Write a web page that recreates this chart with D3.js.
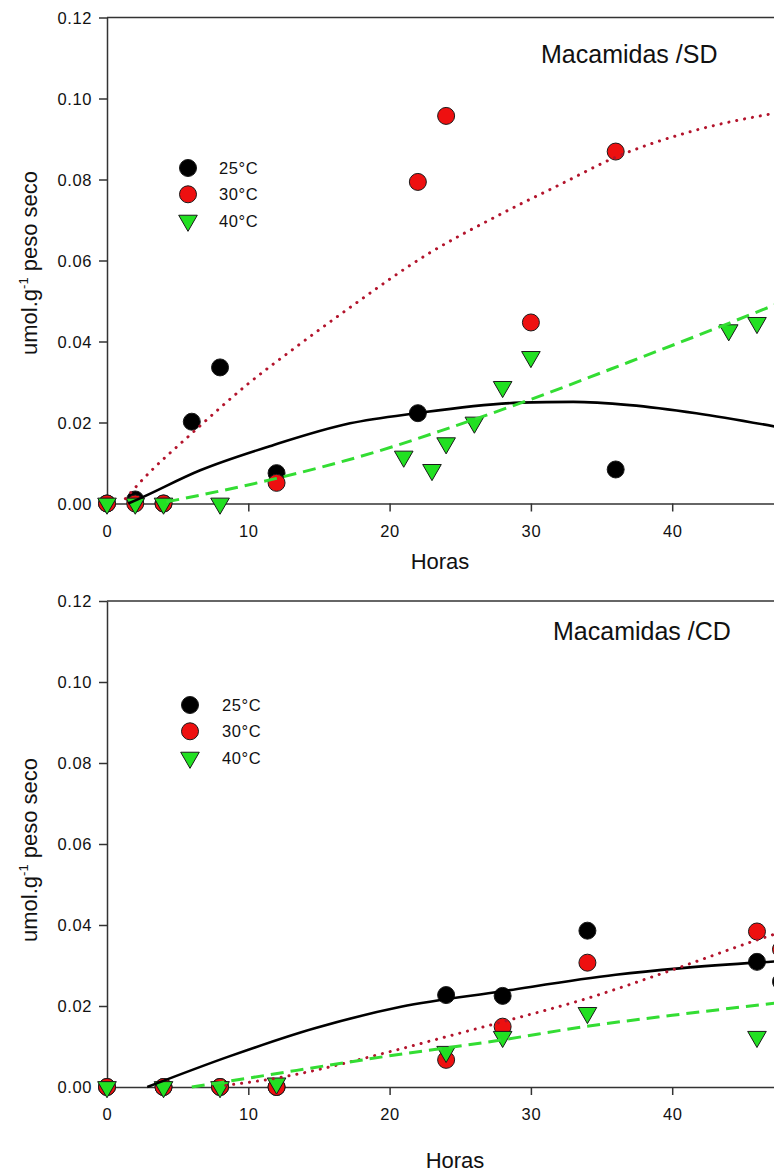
<!DOCTYPE html>
<html>
<head>
<meta charset="utf-8">
<script src="https://cdn.jsdelivr.net/npm/d3@7"></script>
<style>
  html, body { margin: 0; padding: 0; background: #fff; }
  svg { display: block; }
  text { font-family: "Liberation Sans", Arial, sans-serif; fill: #111; }
</style>
</head>
<body>
<svg id="chart" width="774" height="1174"></svg>
<script>
// ---------- data ----------
const seriesNames = ["25°C", "30°C", "40°C"];
const xTicks = [0, 10, 20, 30, 40];
const yTicks = [0, 0.02, 0.04, 0.06, 0.08, 0.10, 0.12];

// Panel 1: Macamidas /SD
const sdHours25 = [0, 2, 4, 6, 8, 12, 22, 36];
const sdVals25  = [0, 0.0010, 0, 0.0202, 0.0336, 0.0075, 0.0223, 0.0084];
const sdHours30 = [0, 2, 4, 12, 22, 24, 30, 36];
const sdVals30  = [0, 0, 0, 0.0051, 0.0794, 0.0957, 0.0447, 0.0869];
const sdHours40 = [0, 2, 4, 8, 21, 23, 24, 26, 28, 30, 44, 46];
const sdVals40  = [0, 0, 0, 0, 0.0116, 0.0083, 0.0149, 0.0200, 0.0288, 0.0362, 0.0428, 0.0446];

// fitted curves
const sdFitHours25 = [1.5, 2.1, 6.6, 11.75, 17.2, 21.9, 29.2, 33, 37, 41.7, 47.3];
const sdFitVals25  = [0, 0.0009, 0.0082, 0.0144, 0.0198, 0.0223, 0.0249, 0.0251, 0.0243, 0.0223, 0.0190];
const sdFitHours30 = [1.3, 2.6, 6, 9.9, 13.4, 16.8, 22.8, 27.5, 32.2, 35.8, 41.7, 47.3];
const sdFitVals30  = [0.0012, 0.0062, 0.0173, 0.0293, 0.0387, 0.0474, 0.0618, 0.0708, 0.0790, 0.0852, 0.0922, 0.0964];
const sdFitHours40 = [4.2, 12, 20.2, 23.5, 29.9, 37, 44, 47.3];
const sdFitVals40  = [0.0004, 0.0062, 0.0140, 0.0178, 0.0256, 0.0350, 0.0445, 0.0491];

// Panel 2: Macamidas /CD
const cdHours25 = [0, 4, 8, 12, 24, 28, 34, 46, 47.7];
const cdVals25  = [0, 0, 0, 0, 0.0227, 0.0225, 0.0386, 0.0309, 0.0260];
const cdHours30 = [0, 4, 8, 12, 24, 28, 34, 46, 47.7];
const cdVals30  = [0, 0, 0, 0, 0.0067, 0.0149, 0.0307, 0.0384, 0.0340];
const cdHours40 = [0, 4, 8, 12, 24, 28, 34, 46];
const cdVals40  = [0, 0, 0, 0.0009, 0.0087, 0.0124, 0.0183, 0.0124];

const cdFitHours25 = [2.85, 8.6, 14.7, 20.8, 27.9, 36, 40.5, 47.3];
const cdFitVals25  = [0, 0.0075, 0.0145, 0.0198, 0.0236, 0.0277, 0.0293, 0.0310];
const cdFitHours30 = [8.4, 12, 20, 24, 28, 34, 40, 46, 47.3];
const cdFitVals30  = [0.0004, 0.0022, 0.0087, 0.0124, 0.0161, 0.0219, 0.0289, 0.0363, 0.0378];
const cdFitHours40 = [6, 10, 20, 27.9, 33.8, 40, 47.3];
const cdFitVals40  = [0, 0.0022, 0.0077, 0.0116, 0.0149, 0.0177, 0.0207];

// ---------- drawing ----------
const svg = d3.select("#chart");
const colors = { fill: ["#000000", "#ee1010", "#22e022"], line: ["#000000", "#b3142c", "#33dd33"] };

const zip = (xs, ys) => xs.map((x, i) => ({ x, y: ys[i] }));

const panels = [
  {
    title: "Macamidas /SD", titlePos: [541, 63],
    top: 17.5, bottom: 503.5,
    pts: [zip(sdHours25, sdVals25), zip(sdHours30, sdVals30), zip(sdHours40, sdVals40)],
    fits: [zip(sdFitHours25, sdFitVals25), zip(sdFitHours30, sdFitVals30), zip(sdFitHours40, sdFitVals40)],
    legend: [188, 168, 219], xlab: [440, 569], ylabCenter: 263
  },
  {
    title: "Macamidas /CD", titlePos: [553, 640],
    top: 601, bottom: 1087,
    pts: [zip(cdHours25, cdVals25), zip(cdHours30, cdVals30), zip(cdHours40, cdVals40)],
    fits: [zip(cdFitHours25, cdFitVals25), zip(cdFitHours30, cdFitVals30), zip(cdFitHours40, cdFitVals40)],
    legend: [190, 705, 222], xlab: [455, 1168], ylabCenter: 850
  }
];

const x = d3.scaleLinear().domain([0, 50]).range([107, 107 + 50 * 14.13]);

panels.forEach(p => {
  const g = svg.append("g");
  const y = d3.scaleLinear().domain([0, 0.12]).range([p.bottom, p.top]);

  // frame top line
  g.append("line")
    .attr("x1", x(0)).attr("x2", x(50))
    .attr("y1", y(0.12)).attr("y2", y(0.12))
    .attr("stroke", "#333").attr("stroke-width", 1.5);

  const ax = g.append("g").attr("transform", `translate(0,${y(0)})`)
    .call(d3.axisBottom(x).tickValues(xTicks).tickFormat(d3.format("d")).tickSize(8).tickSizeOuter(0));
  const ay = g.append("g").attr("transform", `translate(${x(0)},0)`)
    .call(d3.axisLeft(y).tickValues(yTicks).tickFormat(d3.format(".2f")).tickSize(8).tickSizeOuter(0));
  [ax, ay].forEach(a => {
    a.selectAll("path.domain").attr("stroke", "#333").attr("stroke-width", 1.5);
    a.selectAll(".tick line").attr("stroke", "#333").attr("stroke-width", 1.5);
    a.selectAll(".tick text").attr("font-size", 16.5).attr("letter-spacing", "0.6px")
      .attr("font-family", "'Liberation Sans', Arial, sans-serif").attr("fill", "#111");
  });
  ax.selectAll(".tick text").attr("dy", null).attr("y", 33).attr("dominant-baseline", "auto");
  ay.selectAll(".tick text").attr("x", -15).attr("dy", "0.36em");

  // markers
  const tri = d3.symbol().type(d3.symbolTriangle).size(150);
  p.pts.forEach((s, i) => {
    if (i < 2) {
      g.append("g").selectAll("circle").data(s).join("circle")
        .attr("cx", d => x(d.x)).attr("cy", d => y(d.y)).attr("r", 8.5)
        .attr("fill", colors.fill[i]).attr("stroke", "#1a1a1a").attr("stroke-width", 1);
    } else {
      g.append("g").selectAll("path").data(s).join("path")
        .attr("d", tri)
        .attr("transform", d => `translate(${x(d.x)},${y(d.y)}) rotate(180)`)
        .attr("fill", colors.fill[i]).attr("stroke", "#1a1a1a").attr("stroke-width", 1);
    }
  });

  // fitted curves
  const line = d3.line().x(d => x(d.x)).y(d => y(d.y)).curve(d3.curveMonotoneX);
  p.fits.forEach((s, i) => {
    const path = g.append("path").datum(s).attr("d", line)
      .attr("fill", "none").attr("stroke", colors.line[i]);
    if (i === 0) path.attr("stroke-width", 2.6);
    if (i === 1) path.attr("stroke-width", 3).attr("stroke-dasharray", "0.1 7.9").attr("stroke-linecap", "round");
    if (i === 2) path.attr("stroke-width", 3).attr("stroke-dasharray", "13 7");
  });

  // title
  g.append("text").attr("x", p.titlePos[0]).attr("y", p.titlePos[1])
    .attr("font-size", 25).text(p.title);

  // legend
  const [lx, ly, tx] = p.legend;
  seriesNames.forEach((name, i) => {
    const yy = ly + i * 26.3;
    if (i < 2) {
      g.append("circle").attr("cx", lx).attr("cy", yy).attr("r", 8.5)
        .attr("fill", colors.fill[i]).attr("stroke", "#1a1a1a").attr("stroke-width", 1);
    } else {
      g.append("path").attr("d", tri).attr("transform", `translate(${lx},${yy}) rotate(180)`)
        .attr("fill", colors.fill[i]).attr("stroke", "#1a1a1a").attr("stroke-width", 1);
    }
    g.append("text").attr("x", tx).attr("y", yy).attr("dy", "0.36em")
      .attr("font-size", 16.5).attr("letter-spacing", "0.6px").text(name);
  });

  // axis labels
  g.append("text").attr("x", p.xlab[0]).attr("y", p.xlab[1]).attr("text-anchor", "middle")
    .attr("font-size", 22).text("Horas");
  const yl = g.append("text")
    .attr("transform", `translate(37,${p.ylabCenter}) rotate(-90)`)
    .attr("text-anchor", "middle").attr("font-size", 22);
  yl.append("tspan").text("umol.g");
  yl.append("tspan").attr("font-size", 13).attr("dy", -9).text("-1");
  yl.append("tspan").attr("dy", 9).text(" peso seco");
});
</script>
</body>
</html>
